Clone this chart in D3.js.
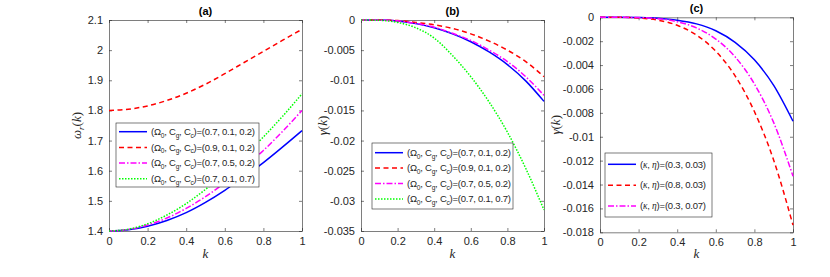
<!DOCTYPE html>
<html>
<head>
<meta charset="utf-8">
<script src="https://cdn.jsdelivr.net/npm/d3@7"></script>
<style>
  body { margin: 0; background: #fff; }
  svg { display: block; font-family: "Liberation Sans", Arial, sans-serif; }
  .tick text { fill: #262626; font-size: 11px; }
  .domain, .tick line { stroke: #262626; stroke-width: 0.6; }
</style>
</head>
<body>
<div id="chart"></div>
<script>
// ---- datos ----
const kVals = [0, 0.1, 0.2, 0.3, 0.4, 0.5, 0.6, 0.7, 0.8, 0.9, 1];
const xTicks = [0, 0.2, 0.4, 0.6, 0.8, 1];

// panel (a) omega_r(k)
const aBlue    = [1.400, 1.404, 1.416, 1.435, 1.461, 1.495, 1.535, 1.580, 1.627, 1.679, 1.733];
const aRed     = [1.800, 1.804, 1.815, 1.833, 1.857, 1.887, 1.922, 1.959, 1.996, 2.033, 2.069];
const aMagenta = [1.400, 1.405, 1.420, 1.443, 1.475, 1.514, 1.560, 1.611, 1.667, 1.731, 1.800];
const aGreen   = [1.400, 1.406, 1.424, 1.453, 1.491, 1.538, 1.591, 1.649, 1.712, 1.781, 1.855];
const aTicks = [1.4, 1.5, 1.6, 1.7, 1.8, 1.9, 2, 2.1];

// panel (b) gamma(k)
const bBlue    = [0, -0.00002, -0.00015, -0.0006, -0.0013, -0.0023, -0.0036, -0.0053, -0.0074, -0.0101, -0.0135];
const bRed     = [0, -0.00001, -0.0001, -0.0004, -0.0008, -0.0014, -0.0023, -0.0035, -0.0050, -0.0069, -0.0094];
const bMagenta = [0, -0.00002, -0.00014, -0.00057, -0.0012, -0.0022, -0.0034, -0.0050, -0.0069, -0.0094, -0.0125];
const bGreen   = [0, -0.00005, -0.0004, -0.0013, -0.0030, -0.0059, -0.0094, -0.0136, -0.0186, -0.0246, -0.0315];
const bTicks = [0, -0.005, -0.01, -0.015, -0.02, -0.025, -0.03, -0.035];

// panel (c) gamma(k)
const cBlue    = [0, 0, -0.00002, -0.00008, -0.00024, -0.00055, -0.00113, -0.0021, -0.00356, -0.0057, -0.0087];
const cRed     = [0, 0, -0.00006, -0.00024, -0.00067, -0.00149, -0.00284, -0.0049, -0.00789, -0.01197, -0.0174];
const cMagenta = [0, 0, -0.000025, -0.00012, -0.00037, -0.00089, -0.00182, -0.00331, -0.00558, -0.00882, -0.0133];
const cTicks = [0, -0.002, -0.004, -0.006, -0.008, -0.01, -0.012, -0.014, -0.016, -0.018];

const paramLabels = ["0.7, 0.1, 0.2", "0.9, 0.1, 0.2", "0.7, 0.5, 0.2", "0.7, 0.1, 0.7"];
const kappaLabels = ["0.3, 0.03", "0.8, 0.03", "0.3, 0.07"];

// estilos de linea
const estilos = [
  { color: "#0000ff", dash: null },
  { color: "#ff0000", dash: "5,3.5" },
  { color: "#ff00ff", dash: "6,2,1.5,2" },
  { color: "#00ff00", dash: "1.5,1.5" }
];

const W = 830, H = 277;
const svg = d3.select("#chart").append("svg").attr("width", W).attr("height", H);

const paneles = [
  { left: 109, right: 302, top: 20, bottom: 231, dom: [1.4, 2.1], ticks: aTicks,
    title: "(a)", ylab: "omega", ylabX: 81,
    series: [aBlue, aRed, aMagenta, aGreen], tipo: "param",
    leg: { x: 116, y: 123, w: 143, h: 64, row: 15.7, first: 8.7, fs: 9.5, txtW: 104 } },
  { left: 361, right: 544, top: 20, bottom: 231, dom: [-0.035, 0], ticks: bTicks,
    title: "(b)", ylab: "gamma", ylabX: 327,
    series: [bBlue, bRed, bMagenta, bGreen], tipo: "param",
    leg: { x: 372, y: 143, w: 141, h: 66, row: 15.4, first: 9.7, fs: 9.5, txtW: 104 } },
  { left: 600, right: 793, top: 17.3, bottom: 232.3, dom: [-0.018, 0], ticks: cTicks,
    title: "(c)", ylab: "gamma", ylabX: 560,
    series: [cBlue, cRed, cMagenta], tipo: "kappa",
    leg: { x: 605, y: 153, w: 107, h: 64, row: 20.9, first: 11.3, fs: 9.5, txtW: 66 } }
];

const fmt = (v) => String(+v.toFixed(4));

function etiquetaParam(t, fs, lab) {
  const sub = fs * 0.7, off = fs * 0.3;
  t.attr("font-size", fs);
  t.append("tspan").text("(Ω");
  t.append("tspan").attr("font-size", sub).attr("dy", off).text("0");
  t.append("tspan").attr("dy", -off).text(", C");
  t.append("tspan").attr("font-size", sub).attr("dy", off).text("g");
  t.append("tspan").attr("dy", -off).text(", C");
  t.append("tspan").attr("font-size", sub).attr("dy", off).text("c");
  t.append("tspan").attr("dy", -off).text(")=(" + lab + ")");
}

function etiquetaKappa(t, fs, lab) {
  t.attr("font-size", fs);
  t.append("tspan").text("(");
  t.append("tspan").attr("font-family", "Liberation Serif, serif").attr("font-style", "italic").text("κ");
  t.append("tspan").text(", ");
  t.append("tspan").attr("font-family", "Liberation Serif, serif").attr("font-style", "italic").text("η");
  t.append("tspan").text(")=(" + lab + ")");
}

paneles.forEach((p) => {
  const x = d3.scaleLinear().domain([0, 1]).range([p.left, p.right]);
  const y = d3.scaleLinear().domain(p.dom).range([p.bottom, p.top]);
  const g = svg.append("g");

  // ejes con ticks hacia dentro en los 4 lados
  g.append("g").attr("transform", `translate(0,${p.bottom})`)
    .call(d3.axisBottom(x).tickValues(xTicks).tickFormat(fmt).tickSizeInner(-3).tickSizeOuter(0).tickPadding(6));
  g.append("g").attr("transform", `translate(0,${p.top})`)
    .call(d3.axisTop(x).tickValues(xTicks).tickFormat("").tickSizeInner(-3).tickSizeOuter(0));
  g.append("g").attr("transform", `translate(${p.left},0)`)
    .call(d3.axisLeft(y).tickValues(p.ticks).tickFormat(fmt).tickSizeInner(-3).tickSizeOuter(0).tickPadding(6));
  g.append("g").attr("transform", `translate(${p.right},0)`)
    .call(d3.axisRight(y).tickValues(p.ticks).tickFormat("").tickSizeInner(-3).tickSizeOuter(0));

  // curvas
  const line = d3.line().x((d, i) => x(kVals[i])).y((d) => y(d)).curve(d3.curveMonotoneX);
  const clipId = "clip" + p.title.replace(/\W/g, "");
  g.append("clipPath").attr("id", clipId).append("rect")
    .attr("x", p.left).attr("y", p.top - 2).attr("width", p.right - p.left + 1).attr("height", p.bottom - p.top + 4);
  p.series.forEach((s, i) => {
    g.append("path").datum(s).attr("d", line)
      .attr("clip-path", `url(#${clipId})`)
      .attr("fill", "none").attr("stroke", estilos[i].color).attr("stroke-width", 1.5)
      .attr("stroke-dasharray", estilos[i].dash);
  });

  // titulo
  g.append("text").attr("x", (p.left + p.right) / 2).attr("y", p.top - 5)
    .attr("text-anchor", "middle").attr("font-weight", "bold").attr("font-size", 11).attr("fill", "#000")
    .text(p.title);

  // etiqueta x
  g.append("text").attr("x", (p.left + p.right) / 2).attr("y", 258)
    .attr("text-anchor", "middle").attr("font-family", "Liberation Serif, serif")
    .attr("font-style", "italic").attr("font-size", 13).attr("fill", "#262626").text("k");

  // etiqueta y
  const yl = g.append("text").attr("transform", `translate(${p.ylabX},${(p.top + p.bottom) / 2}) rotate(-90)`)
    .attr("text-anchor", "middle").attr("font-family", "Liberation Serif, serif")
    .attr("font-size", 13).attr("fill", "#262626");
  if (p.ylab === "omega") {
    yl.append("tspan").attr("font-style", "italic").text("ω");
    yl.append("tspan").attr("font-style", "italic").attr("font-size", 9).attr("dy", 3).text("r");
    yl.append("tspan").attr("dy", -3).text("(");
    yl.append("tspan").attr("font-style", "italic").text("k");
    yl.append("tspan").text(")");
  } else {
    yl.append("tspan").attr("font-style", "italic").text("γ");
    yl.append("tspan").text("(");
    yl.append("tspan").attr("font-style", "italic").text("k");
    yl.append("tspan").text(")");
  }

  // leyenda
  const L = p.leg;
  const lg = g.append("g");
  lg.append("rect").attr("x", L.x).attr("y", L.y).attr("width", L.w).attr("height", L.h)
    .attr("fill", "#fff").attr("stroke", "#262626").attr("stroke-width", 0.6);
  p.series.forEach((s, i) => {
    const yy = L.y + L.first + i * L.row;
    lg.append("line").attr("x1", L.x + 3).attr("x2", L.x + 31).attr("y1", yy).attr("y2", yy)
      .attr("stroke", estilos[i].color).attr("stroke-width", 1.5).attr("stroke-dasharray", estilos[i].dash);
    const t = lg.append("text").attr("x", L.x + 35).attr("y", yy + 3.2).attr("fill", "#262626")
      .attr("textLength", L.txtW).attr("lengthAdjust", "spacing");
    if (p.tipo === "param") etiquetaParam(t, L.fs, paramLabels[i]);
    else etiquetaKappa(t, L.fs, kappaLabels[i]);
  });
});
</script>
</body>
</html>
